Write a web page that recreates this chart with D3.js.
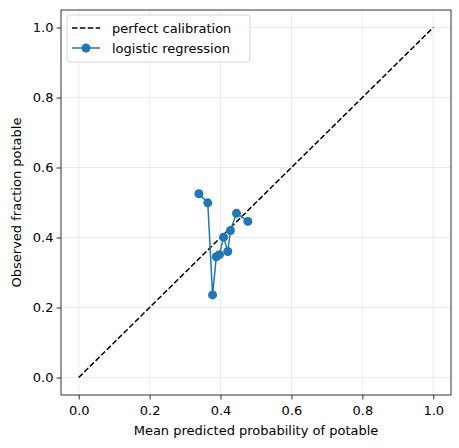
<!DOCTYPE html><html><head><meta charset="utf-8"><script src="https://cdn.jsdelivr.net/npm/d3@7"></script>
<style>body{margin:0;background:#fff}text{font-family:"DejaVu Sans",sans-serif}</style></head><body><svg id="c" width="459" height="448"></svg>
<script>
const predX=[0.339,0.364,0.3775,0.388,0.397,0.4085,0.4205,0.428,0.445,0.477];
const obsY=[0.525,0.499,0.236,0.345,0.351,0.401,0.360,0.420,0.469,0.446];
const ticks=[0,0.2,0.4,0.6,0.8,1.0];
const svg=d3.select("#c");
const L=61,R=451,T=10,B=395;
const FS=13;
const x=d3.scaleLinear().domain([-0.05,1.05]).range([L,R]);
const y=d3.scaleLinear().domain([-0.05,1.05]).range([B,T]);
const g=svg.append("g");
ticks.forEach(t=>{
 g.append("line").attr("x1",x(t)).attr("x2",x(t)).attr("y1",T).attr("y2",B).attr("stroke","#b0b0b0").attr("stroke-opacity",0.3).attr("stroke-width",0.8);
 g.append("line").attr("y1",y(t)).attr("y2",y(t)).attr("x1",L).attr("x2",R).attr("stroke","#b0b0b0").attr("stroke-opacity",0.3).attr("stroke-width",0.8);
});
const xa=svg.append("g").attr("transform",`translate(0,${B})`).call(d3.axisBottom(x).tickValues(ticks).tickFormat(d3.format(".1f")).tickSize(4.5).tickSizeOuter(0));
const ya=svg.append("g").attr("transform",`translate(${L},0)`).call(d3.axisLeft(y).tickValues(ticks).tickFormat(d3.format(".1f")).tickSize(4.5).tickSizeOuter(0));
[xa,ya].forEach(a=>{a.select(".domain").remove();a.selectAll("text").attr("font-size",FS).attr("fill","#000").style("font-family","DejaVu Sans");a.selectAll("line").attr("stroke","#000").attr("stroke-width",0.8);});
xa.selectAll("text").attr("dy","0.95em");
svg.append("rect").attr("x",L).attr("y",T).attr("width",R-L).attr("height",B-T).attr("fill","none").attr("stroke","#000").attr("stroke-width",0.8);
svg.append("line").attr("x1",x(0)).attr("y1",y(0)).attr("x2",x(1)).attr("y2",y(1)).attr("stroke","#000").attr("stroke-width",1.5).attr("stroke-dasharray","5.5,2.4");
const pts=predX.map((v,i)=>[v,obsY[i]]);
svg.append("path").attr("d",d3.line().x(d=>x(d[0])).y(d=>y(d[1]))(pts)).attr("fill","none").attr("stroke","#1f77b4").attr("stroke-width",1.5);
svg.selectAll("circle.p").data(pts).enter().append("circle").attr("cx",d=>x(d[0])).attr("cy",d=>y(d[1])).attr("r",4.5).attr("fill","#1f77b4");
svg.append("text").attr("x",(L+R)/2).attr("y",435).attr("text-anchor","middle").attr("font-size",FS).text("Mean predicted probability of potable");
svg.append("text").attr("transform",`translate(21,${(T+B)/2}) rotate(-90)`).attr("text-anchor","middle").attr("font-size",FS).text("Observed fraction potable");
const lg=svg.append("g");
lg.append("rect").attr("x",67).attr("y",15).attr("width",183).attr("height",47).attr("rx",3).attr("fill","#fff").attr("fill-opacity",0.8).attr("stroke","#ccc").attr("stroke-width",0.8);
lg.append("line").attr("x1",72).attr("x2",100).attr("y1",28).attr("y2",28).attr("stroke","#000").attr("stroke-width",1.5).attr("stroke-dasharray","5.5,2.4");
lg.append("text").attr("x",112).attr("y",32.5).attr("font-size",FS).text("perfect calibration");
lg.append("line").attr("x1",72).attr("x2",100).attr("y1",48).attr("y2",48).attr("stroke","#1f77b4").attr("stroke-width",1.5);
lg.append("circle").attr("cx",86).attr("cy",48).attr("r",4.5).attr("fill","#1f77b4");
lg.append("text").attr("x",112).attr("y",52.5).attr("font-size",FS).text("logistic regression");
</script></body></html>
